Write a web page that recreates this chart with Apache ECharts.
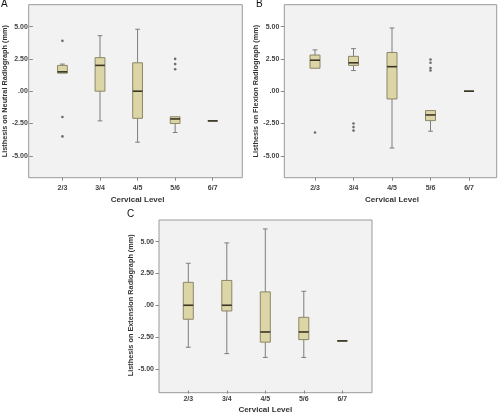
<!DOCTYPE html>
<html>
<head>
<meta charset="utf-8">
<script src="https://cdn.jsdelivr.net/npm/echarts@6/dist/echarts.min.js"></script>
<style>html,body{margin:0;padding:0;background:#fff;}#c{width:500px;height:415px;}</style>
</head>
<body>
<div id="c"></div>
<script>
// ---------- data ----------
const categories = ['2/3', '3/4', '4/5', '5/6', '6/7'];
const yTicks = [-5, -2.5, 0, 2.5, 5];
const yName = {
  A: 'Listhesis on Neutral Radiograph (mm)',
  B: 'Listhesis on Flexion Radiograph (mm)',
  C: 'Listhesis on Extension Radiograph (mm)'
};
const xName = 'Cervical Level';
// [low whisker, Q1, median, Q3, high whisker]
const boxA = [
  [1.37, 1.4, 1.5, 2.0, 2.1],
  [-2.3, 0.0, 2.0, 2.6, 4.3],
  [-3.95, -2.1, 0.0, 2.2, 4.8],
  [-3.2, -2.5, -2.15, -1.98, -1.98],
  [-2.3, -2.3, -2.3, -2.3, -2.3]
];
const outliersA = [['2/3', 3.9], ['2/3', -2.0], ['2/3', -3.5], ['5/6', 2.5], ['5/6', 2.1], ['5/6', 1.7]];
const boxB = [
  [1.78, 1.78, 2.4, 2.8, 3.2],
  [1.6, 2.0, 2.2, 2.7, 3.3],
  [-4.4, -0.6, 1.9, 3.0, 4.9],
  [-3.1, -2.28, -1.84, -1.5, -1.5],
  [0.0, 0.0, 0.0, 0.0, 0.0]
];
const outliersB = [['2/3', -3.2], ['3/4', -2.5], ['3/4', -2.78], ['3/4', -3.05],
  ['5/6', 2.45], ['5/6', 2.2], ['5/6', 1.8], ['5/6', 1.6]];
const boxC = [
  [-3.3, -1.1, 0.0, 1.8, 3.3],
  [-3.8, -0.45, 0.0, 1.95, 4.9],
  [-4.1, -2.9, -2.1, 1.05, 6.0],
  [-4.1, -2.7, -2.1, -0.95, 1.1],
  [-2.8, -2.8, -2.8, -2.8, -2.8]
];
const outliersC = [];

// ---------- styling / layout ----------
const FONT = 'Liberation Sans';
const BOX_FILL = '#dcd5a6';
const BOX_EDGE = '#8b8668';
const WHISK = '#7d7d7d';
const MED = '#3b3626';
const PLOT_BG = '#f2f2f2';
const FRAME = '#9a9a9a';

const panels = [
  {key: 'A', frame: {left: 28.7, top: 4.7, width: 213.6, height: 173}, inner: {left: 39.5, width: 192},
   box: boxA, out: outliersA, nameGap: 22, labelMargin: 7, xNameGap: 18.5},
  {key: 'B', frame: {left: 284.3, top: 4.7, width: 212.4, height: 173}, inner: {left: 295.75, width: 192.5},
   box: boxB, out: outliersB, nameGap: 22, labelMargin: 7, xNameGap: 18.5},
  {key: 'C', frame: {left: 159, top: 220, width: 213, height: 172.7}, inner: {left: 169.05, width: 192.5},
   box: boxC, out: outliersC, nameGap: 23, labelMargin: 5, xNameGap: 15.5}
];

function renderBox(params, api) {
  const x = api.value(0);
  const lo = api.coord([x, api.value(1)]);
  const q1 = api.coord([x, api.value(2)]);
  const md = api.coord([x, api.value(3)]);
  const q3 = api.coord([x, api.value(4)]);
  const hi = api.coord([x, api.value(5)]);
  const bw = api.size([1, 0])[0];
  const w = bw * 0.26, cw = w * 0.48, cx = md[0];
  const lineStyle = {stroke: WHISK, lineWidth: 1};
  const children = [];
  if (hi[1] < q3[1] - 0.5) {
    children.push({type: 'line', shape: {x1: cx, y1: q3[1], x2: cx, y2: hi[1]}, style: lineStyle});
    children.push({type: 'line', shape: {x1: cx - cw / 2, y1: hi[1], x2: cx + cw / 2, y2: hi[1]}, style: lineStyle});
  }
  if (lo[1] > q1[1] + 0.5) {
    children.push({type: 'line', shape: {x1: cx, y1: q1[1], x2: cx, y2: lo[1]}, style: lineStyle});
    children.push({type: 'line', shape: {x1: cx - cw / 2, y1: lo[1], x2: cx + cw / 2, y2: lo[1]}, style: lineStyle});
  }
  children.push({type: 'rect', shape: {x: cx - w / 2, y: q3[1], width: w, height: q1[1] - q3[1]},
    style: {fill: BOX_FILL, stroke: BOX_EDGE, lineWidth: 1}});
  children.push({type: 'line', shape: {x1: cx - w / 2, y1: md[1], x2: cx + w / 2, y2: md[1]},
    style: {stroke: MED, lineWidth: 1.6}});
  return {type: 'group', children};
}

const grid = [], xAxis = [], yAxis = [], series = [], graphic = [];
panels.forEach((p, i) => {
  const fg = grid.length;
  grid.push({left: p.frame.left, top: p.frame.top, width: p.frame.width, height: p.frame.height,
    show: true, backgroundColor: PLOT_BG, borderColor: FRAME, borderWidth: 1});
  xAxis.push({gridIndex: fg, type: 'value', show: false, min: 0, max: 1});
  yAxis.push({gridIndex: fg, type: 'value', show: false, min: 0, max: 1});
  const dg = grid.length;
  grid.push({left: p.inner.left, top: p.frame.top, width: p.inner.width, height: p.frame.height, show: false});
  const xi = xAxis.length;
  xAxis.push({
    gridIndex: dg, type: 'category', data: categories, boundaryGap: true, position: 'bottom',
    axisLine: {show: false, onZero: false},
    axisTick: {show: true, alignWithLabel: true, length: 3, lineStyle: {color: '#888'}},
    axisLabel: {margin: p.labelMargin, fontFamily: FONT, fontSize: 7, fontWeight: 'bold', color: '#444'},
    name: xName, nameLocation: 'middle', nameGap: p.xNameGap,
    nameTextStyle: {fontFamily: FONT, fontSize: 8, fontWeight: 'bold', color: '#333'},
    splitLine: {show: false}
  });
  const yi = yAxis.length;
  yAxis.push({
    gridIndex: dg, type: 'value', min: -6.7, max: 6.7,
    offset: p.inner.left - p.frame.left,
    axisLine: {show: false, onZero: false},
    axisTick: {show: true, length: 3.5, customValues: yTicks, lineStyle: {color: '#888'}},
    axisLabel: {margin: 5, customValues: yTicks, fontFamily: FONT, fontSize: 7, fontWeight: 'bold', color: '#444',
      formatter: v => (Math.abs(v) < 1e-9 ? '.00' : v.toFixed(2))},
    splitLine: {show: false},
    name: yName[p.key], nameLocation: 'middle', nameGap: p.nameGap, nameRotate: 90,
    nameTextStyle: {fontFamily: FONT, fontSize: 7.3, fontWeight: 'bold', color: '#333'}
  });
  series.push({
    type: 'custom', xAxisIndex: xi, yAxisIndex: yi, renderItem: renderBox,
    encode: {x: 0, y: [1, 2, 3, 4, 5]},
    data: p.box.map((b, k) => [categories[k], ...b]), z: 2
  });
  series.push({
    type: 'scatter', xAxisIndex: xi, yAxisIndex: yi, symbol: 'circle', symbolSize: 2.6,
    itemStyle: {color: '#4a4a4a'}, data: p.out, z: 3
  });
});

graphic.push({type: 'text', left: 1, top: -1, style: {text: 'A', font: '10px "Liberation Sans"', fill: '#111'}});
graphic.push({type: 'text', left: 256, top: -1, style: {text: 'B', font: '10px "Liberation Sans"', fill: '#111'}});
graphic.push({type: 'text', left: 127, top: 209, style: {text: 'C', font: '10px "Liberation Sans"', fill: '#111'}});

const chart = echarts.init(document.getElementById('c'), null, {renderer: 'canvas'});
chart.setOption({animation: false, backgroundColor: '#fff', grid, xAxis, yAxis, series, graphic});
</script>
</body>
</html>
